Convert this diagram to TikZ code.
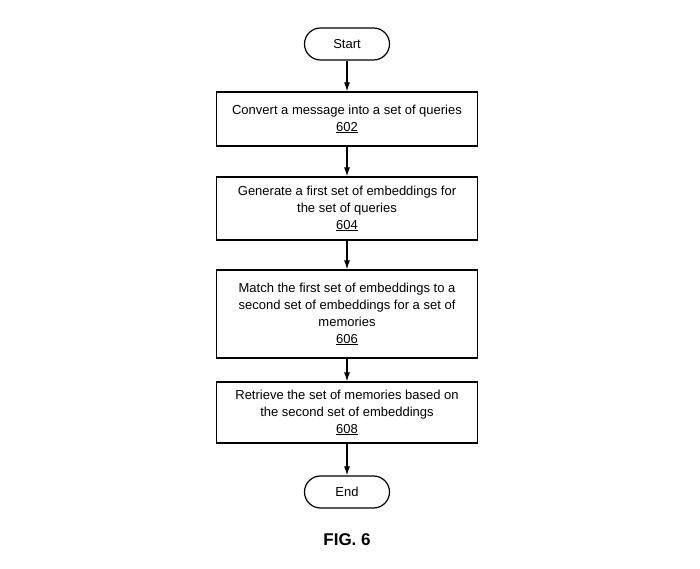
\documentclass[tikz,border=0pt]{standalone}
\usepackage{fontspec}
\setmainfont{Liberation Sans}
\usetikzlibrary{arrows.meta}
\begin{document}
\begin{tikzpicture}[x=1pt,y=1pt,
  term/.style={draw,line width=1.2pt,rounded corners=16pt,minimum width=85pt,minimum height=32pt,font=\fontsize{13}{16}\selectfont},
  box/.style={draw,line width=1.2pt,minimum width=261pt,align=center,font=\fontsize{13}{17}\selectfont},
  arr/.style={-{Latex[length=9pt,width=6pt]},line width=1.2pt}]
\useasboundingbox (0,0) rectangle (700,569);
\node[term] (s) at (347,525) {Start};
\node[box,minimum height=54pt] (b1) at (347,450) {Convert a message into a set of queries\\\underline{602}};
\node[box,minimum height=63pt] (b2) at (347,360.5) {Generate a first set of embeddings for\\the set of queries\\\underline{604}};
\node[box,minimum height=88pt] (b3) at (347,255) {Match the first set of embeddings to a\\second set of embeddings for a set of\\memories\\\underline{606}};
\node[box,minimum height=61pt] (b4) at (347,156.5) {Retrieve the set of memories based on\\the second set of embeddings\\\underline{608}};
\node[term] (e) at (347,77) {End};
\node[font=\bfseries\fontsize{17}{20}\selectfont] (f) at (347,29) {FIG. 6};
\draw[arr] (s) -- (b1);
\draw[arr] (b1) -- (b2);
\draw[arr] (b2) -- (b3);
\draw[arr] (b3) -- (b4);
\draw[arr] (b4) -- (e);
\end{tikzpicture}
\end{document}
